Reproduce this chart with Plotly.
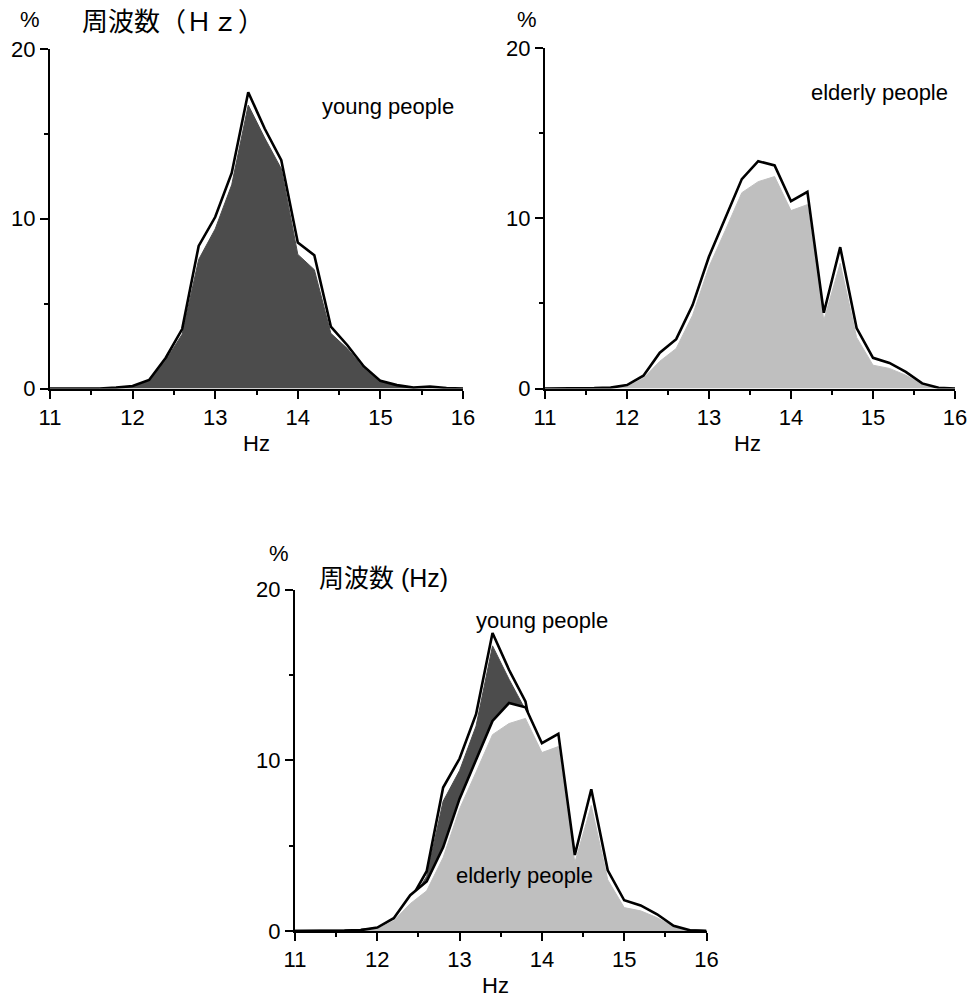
import plotly.graph_objects as go

# ---- data ----
hz = [11.0, 11.2, 11.4, 11.6, 11.8, 12.0, 12.2, 12.4, 12.6, 12.8, 13.0, 13.2, 13.4,
      13.6, 13.8, 14.0, 14.2, 14.4, 14.6, 14.8, 15.0, 15.2, 15.4, 15.6, 15.8, 16.0]

young_outline = [0, 0, 0, 0, 0.05, 0.15, 0.5, 1.8, 3.5, 8.4, 10.1, 12.7, 17.45,
                 15.3, 13.45, 8.6, 7.85, 3.65, 2.55, 1.3, 0.45, 0.2, 0.05, 0.12, 0.03, 0]
young_fill = [0, 0, 0, 0, 0.05, 0.12, 0.45, 1.65, 3.2, 7.6, 9.4, 12.0, 16.7,
              14.75, 12.95, 7.9, 7.0, 3.25, 2.35, 1.2, 0.42, 0.18, 0.04, 0.1, 0.02, 0]

elderly_outline = [0, 0, 0, 0.02, 0.05, 0.2, 0.75, 2.1, 2.9, 4.9, 7.75, 10.0, 12.3,
                   13.35, 13.1, 11.0, 11.55, 4.45, 8.3, 3.55, 1.8, 1.5, 0.98, 0.3, 0.04, 0]
elderly_fill = [0, 0, 0, 0.01, 0.04, 0.1, 0.6, 1.6, 2.35, 4.3, 7.15, 9.3, 11.5,
                12.15, 12.45, 10.45, 10.8, 4.0, 7.35, 3.0, 1.37, 1.18, 0.78, 0.25, 0.03, 0]

x_ticks = [11, 12, 13, 14, 15, 16]
y_ticks = [0, 10, 20]

DARK = "#4c4c4c"
LIGHT = "#bfbfbf"
W, H = 975, 999
OFF = 8  # page body margin


def px(x):
    return (x - OFF) / W


def py(y):
    return 1 - (y - OFF) / H


fig = go.Figure()


def add_series(xa, ya, outline, fill, color):
    # white band up to the outline
    fig.add_trace(go.Scatter(x=hz, y=outline, mode="lines", fill="tozeroy",
                             fillcolor="white", line=dict(color="rgba(0,0,0,0)", width=0),
                             xaxis=xa, yaxis=ya, hoverinfo="skip", showlegend=False))
    # shaded area
    fig.add_trace(go.Scatter(x=hz, y=fill, mode="lines", fill="tozeroy",
                             fillcolor=color, line=dict(color=color, width=1),
                             xaxis=xa, yaxis=ya, hoverinfo="skip", showlegend=False))
    # black outline
    fig.add_trace(go.Scatter(x=hz, y=outline, mode="lines",
                             line=dict(color="black", width=2.6),
                             xaxis=xa, yaxis=ya, hoverinfo="skip", showlegend=False))


add_series("x", "y", young_outline, young_fill, DARK)
add_series("x2", "y2", elderly_outline, elderly_fill, LIGHT)
add_series("x3", "y3", young_outline, young_fill, DARK)
add_series("x3", "y3", elderly_outline, elderly_fill, LIGHT)

tickfont = dict(family="Liberation Sans, Arial, sans-serif", size=22, color="black")


def xaxis(domain, anchor):
    return dict(domain=domain, anchor=anchor, range=[11, 16], tickvals=x_ticks,
                ticks="outside", ticklen=8, tickwidth=2, tickcolor="black",
                minor=dict(dtick=0.5, tick0=11, ticks="outside", ticklen=4,
                           tickwidth=2, tickcolor="black"),
                showline=True, linecolor="black", linewidth=2, showgrid=False,
                zeroline=False, tickfont=tickfont, fixedrange=True, automargin=False)


def yaxis(domain, anchor):
    return dict(domain=domain, anchor=anchor, range=[0, 20], tickvals=y_ticks,
                ticks="outside", ticklen=8, tickwidth=2, tickcolor="black",
                minor=dict(dtick=5, tick0=0, ticks="outside", ticklen=4,
                           tickwidth=2, tickcolor="black"),
                showline=True, linecolor="black", linewidth=2, showgrid=False,
                zeroline=False, tickfont=tickfont, fixedrange=True, automargin=False)


fig.update_layout(
    width=W, height=H, margin=dict(l=0, r=0, t=0, b=0, pad=0, autoexpand=False),
    paper_bgcolor="white", plot_bgcolor="rgba(0,0,0,0)",
    xaxis=xaxis([px(50), px(463)], "y"),
    yaxis=yaxis([py(388.5), py(49)], "x"),
    xaxis2=xaxis([px(545), px(955)], "y2"),
    yaxis2=yaxis([py(388.5), py(48)], "x2"),
    xaxis3=xaxis([px(295), px(706.5)], "y3"),
    yaxis3=yaxis([py(931), py(589.5)], "x3"),
)

LAT = "Liberation Sans, Arial, sans-serif"
CJK = "Liberation Sans, Noto Sans CJK JP, sans-serif"


def label(text, x, y, size=22, family=LAT, xanchor="center"):
    fig.add_annotation(text=text, x=px(x), y=py(y), xref="paper", yref="paper",
                       xanchor=xanchor, yanchor="middle", showarrow=False,
                       font=dict(family=family, size=size, color="black"))


# top-left
label("%", 30, 20)
label("周波数（Ｈｚ）", 80, 22, size=26, family=CJK, xanchor="left")
label("young people", 388, 106)
label("Hz", 256, 444)
# top-right
label("%", 527, 20)
label("elderly people", 879, 93)
label("Hz", 747, 444)
# bottom
label("%", 279, 553)
label("周波数 (Hz)", 317, 578, size=25, family=CJK, xanchor="left")
label("young people", 542, 620)
label("elderly people", 524, 875)
label("Hz", 495, 985)

fig.write_html("out.html")
